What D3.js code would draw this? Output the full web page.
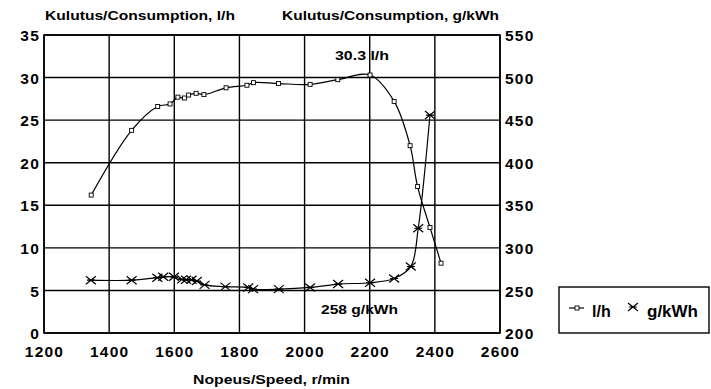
<!DOCTYPE html>
<html><head><meta charset="utf-8">
<script src="https://cdn.jsdelivr.net/npm/d3@7/dist/d3.min.js"></script>
<style>
body{margin:0;background:#fff;}
text{font-family:"Liberation Sans",Arial,sans-serif;font-weight:bold;fill:#000;}
</style></head>
<body><svg id="c" width="711" height="389"></svg>
<script>
// ---- data ----
const speedLh = [1345,1469,1549,1587,1611,1631,1644,1667,1691,1759,1823,1843,1920,2017,2102,2201,2275,2324,2347,2385,2419];
const consLh  = [16.2,23.8,26.6,26.9,27.7,27.6,27.95,28.15,28.0,28.8,29.1,29.4,29.3,29.2,29.75,30.3,27.2,22.0,17.2,12.4,8.2];
const speedG  = [1344,1469,1548,1566,1599,1624,1636,1653,1669,1693,1757,1827,1842,1921,2017,2103,2201,2275,2326,2349,2385];
const consG   = [262,262,265,266,266,263,262.5,262.5,261,256.5,254.5,253.5,251.5,251.5,253.5,257.5,259,264,278,323,456];
const xTicks  = [1200,1400,1600,1800,2000,2200,2400,2600];
const yLTicks = [0,5,10,15,20,25,30,35];
const yRTicks = [200,250,300,350,400,450,500,550];
const titleLeft = "Kulutus/Consumption, l/h";
const titleRight = "Kulutus/Consumption, g/kWh";
const titleX = "Nopeus/Speed, r/min";
const annMax = "30.3 l/h";
const annMin = "258 g/kWh";
const legendLabels = ["l/h","g/kWh"];

const svg = d3.select("#c");
const L=44,R=500,T=35,B=333;
const x = d3.scaleLinear().domain([1200,2600]).range([L,R]);
const yL = d3.scaleLinear().domain([0,35]).range([B,T]);
const yR = d3.scaleLinear().domain([200,550]).range([B,T]);

// grid
const g = svg.append("g");
g.selectAll(".vg").data(xTicks).join("line")
 .attr("x1",d=>x(d)).attr("x2",d=>x(d)).attr("y1",T).attr("y2",B)
 .attr("stroke","#000").attr("stroke-width",1.4);
g.selectAll(".hg").data(yLTicks).join("line")
 .attr("x1",L).attr("x2",R).attr("y1",d=>yL(d)).attr("y2",d=>yL(d))
 .attr("stroke","#000").attr("stroke-width",1.4);
svg.append("rect").attr("x",L).attr("y",T).attr("width",R-L).attr("height",B-T)
 .attr("fill","none").attr("stroke","#000").attr("stroke-width",1.6);

// axes labels via d3 axes
const ax = svg.append("g").attr("transform",`translate(0,${B})`)
 .call(d3.axisBottom(x).tickValues(xTicks).tickSize(0).tickPadding(0).tickFormat(d3.format("d")));
ax.select(".domain").remove();
ax.selectAll("text").attr("y",24).attr("dy",0).style("font-size","15.5px").style("letter-spacing","1.2px").attr("fill","#000");

const ayl = svg.append("g").attr("transform",`translate(${L},0)`)
 .call(d3.axisLeft(yL).tickValues(yLTicks).tickSize(0).tickPadding(0));
ayl.select(".domain").remove();
ayl.selectAll("text").attr("x",-4).attr("dy","0.36em").style("font-size","15.5px").style("letter-spacing","1.2px").attr("fill","#000");

const ayr = svg.append("g").attr("transform",`translate(${R},0)`)
 .call(d3.axisRight(yR).tickValues(yRTicks).tickSize(0).tickPadding(0));
ayr.select(".domain").remove();
ayr.selectAll("text").attr("x",5).attr("dy","0.36em").style("font-size","15.5px").style("letter-spacing","1.2px").attr("fill","#000");

// titles
svg.append("text").attr("x",45).attr("y",20).style("font-size","12.5px")
 .attr("textLength",190).attr("lengthAdjust","spacingAndGlyphs").text(titleLeft);
svg.append("text").attr("x",282).attr("y",20).style("font-size","12.5px")
 .attr("textLength",217).attr("lengthAdjust","spacingAndGlyphs").text(titleRight);
svg.append("text").attr("x",193).attr("y",384).style("font-size","12.5px")
 .attr("textLength",157).attr("lengthAdjust","spacingAndGlyphs").text(titleX);

// annotations
svg.append("text").attr("x",335).attr("y",60).style("font-size","13px")
 .attr("textLength",54).attr("lengthAdjust","spacingAndGlyphs").text(annMax);
svg.append("text").attr("x",321).attr("y",314).style("font-size","13px")
 .attr("textLength",77).attr("lengthAdjust","spacingAndGlyphs").text(annMin);

// series
const lh = speedLh.map((s,i)=>[s,consLh[i]]);
const gk = speedG.map((s,i)=>[s,consG[i]]);
const line1 = d3.line().x(d=>x(d[0])).y(d=>yL(d[1])).curve(d3.curveCatmullRom.alpha(0.5));
const line2 = d3.line().x(d=>x(d[0])).y(d=>yR(d[1])).curve(d3.curveCatmullRom.alpha(0.5));
svg.append("path").attr("d",line1(lh)).attr("fill","none").attr("stroke","#000").attr("stroke-width",1.2);
svg.append("path").attr("d",line2(gk)).attr("fill","none").attr("stroke","#000").attr("stroke-width",1.2);

function square(sel,cx,cy){
  sel.append("rect").attr("x",cx-2).attr("y",cy-2).attr("width",4).attr("height",4)
   .attr("fill","#fff").attr("stroke","#000").attr("stroke-width",0.9);
}
function star(sel,cx,cy){
  const p = d3.path();
  p.moveTo(cx-5,cy-4);p.lineTo(cx+5,cy+4);
  p.moveTo(cx-5,cy+4);p.lineTo(cx+5,cy-4);
  p.moveTo(cx-4,cy);p.lineTo(cx+4,cy);
  sel.append("path").attr("d",p.toString()).attr("stroke","#000").attr("stroke-width",1.2).attr("fill","none");
}
const m1 = svg.append("g");
lh.forEach(d=>square(m1,x(d[0]),yL(d[1])));
const m2 = svg.append("g");
gk.forEach(d=>star(m2,x(d[0]),yR(d[1])));

// legend
const lg = svg.append("g");
lg.append("rect").attr("x",559).attr("y",287).attr("width",150).attr("height",46)
 .attr("fill","#fff").attr("stroke","#000").attr("stroke-width",1.4);
lg.append("line").attr("x1",569).attr("x2",584).attr("y1",308).attr("y2",308).attr("stroke","#000").attr("stroke-width",1.2);
square(lg,577,308);
lg.append("text").attr("x",592).attr("y",317).style("font-size","16px").text(legendLabels[0]);
star(lg,633,307);
lg.append("text").attr("x",647).attr("y",317).style("font-size","16px")
 .attr("textLength",51).attr("lengthAdjust","spacingAndGlyphs").text(legendLabels[1]);
</script></body></html>
